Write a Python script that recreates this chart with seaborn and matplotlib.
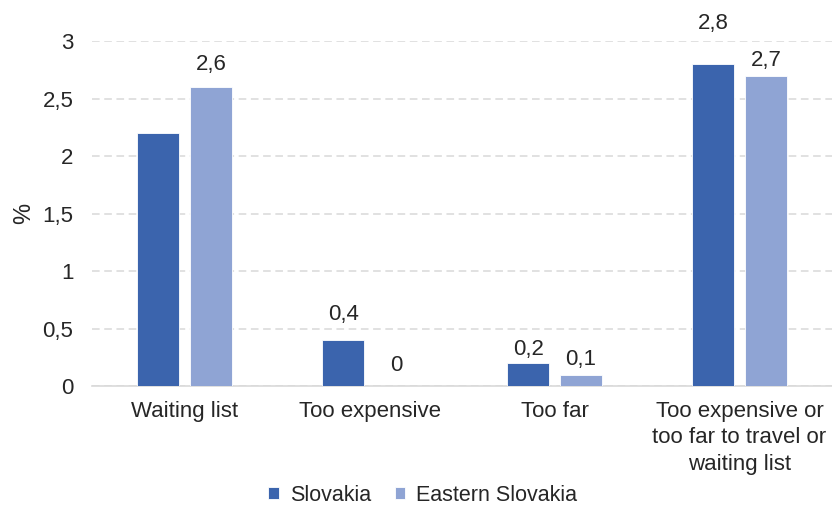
import matplotlib
matplotlib.use("Agg")
import matplotlib.pyplot as plt
import seaborn as sns
import pandas as pd

categories = ["Waiting list", "Too expensive", "Too far",
              "Too expensive or\ntoo far to travel or\nwaiting list"]
slovakia = [2.2, 0.4, 0.2, 2.8]
eastern_slovakia = [2.6, 0.0, 0.1, 2.7]
series_names = ["Slovakia", "Eastern Slovakia"]
y_ticks = [0, 0.5, 1, 1.5, 2, 2.5, 3]
# which bars carry a value label (the Slovakia waiting-list bar has none)
labelled = {"Slovakia": [False, True, True, True],
            "Eastern Slovakia": [True, True, True, True]}
# distance (points) from bar top to the centre of its value label
label_offsets = {"Slovakia": [0, 20, 11.5, 31],
                 "Eastern Slovakia": [18, 16.5, 13, 13]}

df = pd.DataFrame({
    "category": categories * 2,
    "series": [series_names[0]] * 4 + [series_names[1]] * 4,
    "value": slovakia + eastern_slovakia,
})

sns.set_theme(style="white")
plt.rcParams["font.family"] = ["Liberation Sans", "DejaVu Sans"]
text_color = "#262626"
fs = 16

fig = plt.figure(figsize=(8.32, 5.08), dpi=100)
ax = fig.add_axes([0.1106, 0.240, 0.8894, 0.679])

palette = {"Slovakia": "#3B64AD", "Eastern Slovakia": "#8FA4D4"}
sns.barplot(data=df, x="category", y="value", hue="series",
            order=categories, hue_order=series_names, palette=palette,
            width=0.57, gap=0.2, edgecolor="white", linewidth=0.6,
            saturation=1, ax=ax, legend=True, zorder=3)

ax.set_xlim(-0.5, 3.5)
ax.set_ylim(0, 3)
ax.set_yticks(y_ticks)
ax.set_yticklabels([f"{t:g}".replace(".", ",") for t in y_ticks])
ax.yaxis.grid(True, linestyle=(0, (5, 3)), color="#D9D9D9", linewidth=1.1, zorder=0)
ax.set_axisbelow(True)
for side in ["top", "right", "left"]:
    ax.spines[side].set_visible(False)
ax.spines["bottom"].set_color("#D9D9D9")
ax.spines["bottom"].set_linewidth(1.2)
ax.tick_params(axis="both", length=0, labelsize=fs, colors=text_color)
ax.tick_params(axis="y", pad=13.5)
ax.tick_params(axis="x", pad=11)
for lbl in ax.get_xticklabels():
    lbl.set_linespacing(1.32)
ax.set_xlabel("")
ax.set_ylabel("%", fontsize=17, color=text_color, labelpad=5)

# value labels above bars
for container, name in zip(ax.containers, series_names):
    for bar, show, off in zip(container, labelled[name], label_offsets[name]):
        if not show:
            continue
        h = bar.get_height()
        ax.annotate(f"{h:g}".replace(".", ","),
                    (bar.get_x() + bar.get_width() / 2, h),
                    xytext=(0, off), textcoords="offset points",
                    ha="center", va="center_baseline", fontsize=fs,
                    color=text_color, annotation_clip=False)

leg = ax.legend(loc="lower center", bbox_to_anchor=(0.447, -0.39), ncol=2,
                frameon=False, fontsize=15.5, handlelength=0.5, handleheight=0.5,
                columnspacing=1.1, handletextpad=0.5, borderpad=0.2)
for t in leg.get_texts():
    t.set_color(text_color)

fig.savefig("out.png", dpi=100)
